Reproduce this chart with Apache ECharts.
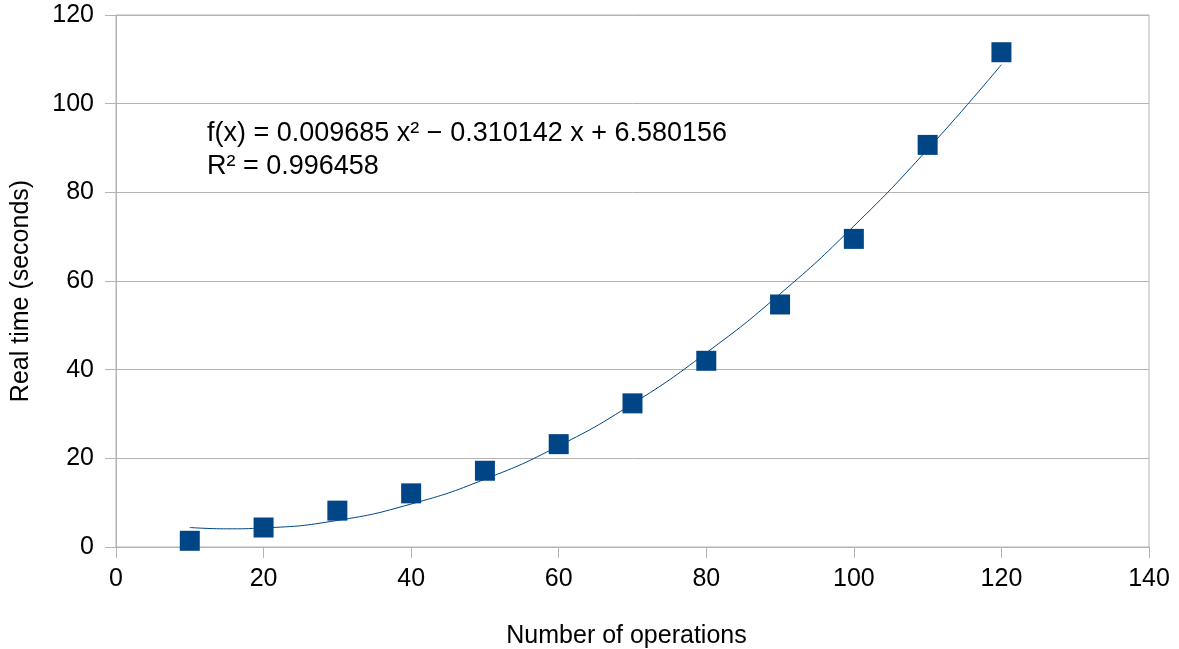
<!DOCTYPE html>
<html>
<head>
<meta charset="utf-8">
<script src="https://cdn.jsdelivr.net/npm/echarts@6/dist/echarts.min.js"></script>
<style>html,body{margin:0;padding:0;background:#fff;}#c{width:1179px;height:649px;}</style>
</head>
<body>
<div id="c"></div>
<script>
const operations = [10, 20, 30, 40, 50, 60, 70, 80, 90, 100, 110, 120];
const realTime = [1.4, 4.4, 8.2, 12.1, 17.2, 23.2, 32.4, 42.0, 54.7, 69.5, 90.7, 111.6];
const trendX = [10, 15, 20, 30, 40, 50, 60, 70, 80, 90, 100, 110, 120];
const trendY = [4.4, 4.1, 4.3, 6.0, 9.7, 15.3, 22.8, 32.3, 43.8, 57.1, 72.4, 89.7, 108.8];
const xTicks = { min: 0, max: 140, interval: 20 };
const yTicks = { min: 0, max: 120, interval: 20 };
const equationText = 'f(x) = 0.009685 x² − 0.310142 x + 6.580156';
const r2Text = 'R² = 0.996458';

const FONT = '"Liberation Sans", Arial, sans-serif';
const chart = echarts.init(document.getElementById('c'), null, { renderer: 'canvas' });
chart.setOption({
  animation: false,
  backgroundColor: '#fff',
  grid: { left: 116, right: 30, top: 15, bottom: 102, show: true, borderColor: '#b3b3b3', borderWidth: 1, containLabel: false, outerBoundsMode: 'none' },
  xAxis: {
    type: 'value', min: xTicks.min, max: xTicks.max, interval: xTicks.interval,
    name: 'Number of operations', nameLocation: 'middle', nameGap: 77,
    nameTextStyle: { fontFamily: FONT, fontSize: 25, color: '#000', padding: [0, 12, 0, 0] },
    axisLine: { show: true, onZero: false, lineStyle: { color: '#b3b3b3', width: 1 } },
    axisTick: { show: true, length: 11, inside: false, lineStyle: { color: '#b3b3b3' } },
    axisLabel: { fontFamily: FONT, fontSize: 25, color: '#000', margin: 20 },
    splitLine: { show: false }
  },
  yAxis: {
    type: 'value', min: yTicks.min, max: yTicks.max, interval: yTicks.interval,
    name: 'Real time (seconds)', nameLocation: 'middle', nameGap: 82, nameRotate: 90,
    nameTextStyle: { fontFamily: FONT, fontSize: 25, color: '#000', padding: [0, 20, 0, 0] },
    axisLine: { show: true, lineStyle: { color: '#b3b3b3', width: 1 } },
    axisTick: { show: true, length: 11, inside: false, lineStyle: { color: '#b3b3b3' } },
    axisLabel: { fontFamily: FONT, fontSize: 25, color: '#000', margin: 22 },
    splitLine: { show: true, lineStyle: { color: '#b3b3b3', width: 1 } }
  },
  graphic: [
    { type: 'text', left: 207, top: 120, style: { text: equationText, font: '27px ' + FONT, fill: '#000' } },
    { type: 'text', left: 207, top: 153, style: { text: r2Text, font: '27px ' + FONT, fill: '#000' } }
  ],
  series: [
    {
      type: 'line', data: trendX.map((x, i) => [x, trendY[i]]), smooth: true, showSymbol: false,
      lineStyle: { color: '#004586', width: 1 }, z: 2
    },
    {
      type: 'scatter', data: operations.map((x, i) => [x, realTime[i]]), symbol: 'rect', symbolSize: 20,
      itemStyle: { color: '#004586', opacity: 1 }, z: 3
    }
  ]
});
</script>
</body>
</html>
